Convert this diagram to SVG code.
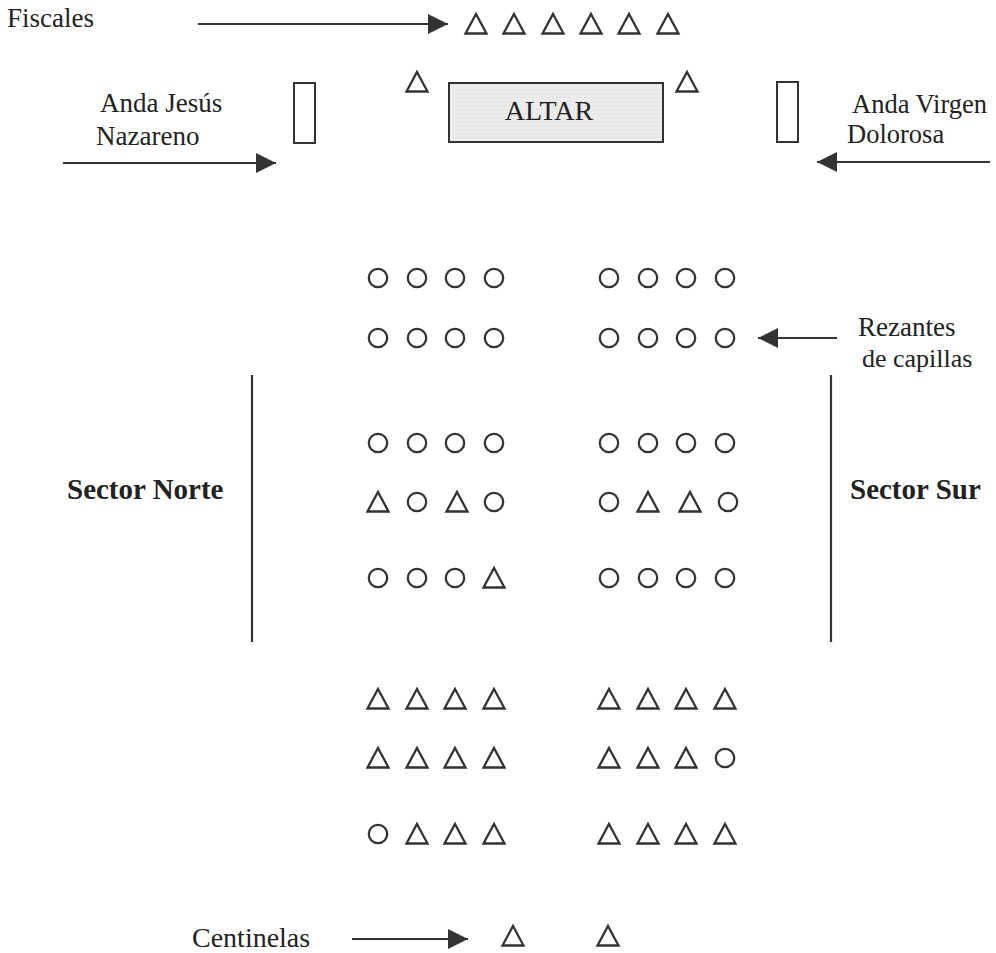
<svg xmlns="http://www.w3.org/2000/svg" xmlns:xlink="http://www.w3.org/1999/xlink" width="996" height="953" viewBox="0 0 996 953">
<style>
  .lbl { font-family: "Liberation Serif", "Times New Roman", serif; font-size: 27px; fill: #222; }
  .bold { font-weight: bold; font-size: 29px; }
  .sym { fill: none; stroke: #333; stroke-width: 2.3; }
  .box { fill: #fff; stroke: #333; stroke-width: 2; }
  .conn { stroke: #333; stroke-width: 2.2; fill: none; }
  .sep { stroke: #333; stroke-width: 2.2; }
</style>
<defs>
  <marker id="ah" viewBox="0 0 20 20" refX="20" refY="10" markerWidth="20" markerHeight="20" markerUnits="userSpaceOnUse" orient="auto">
    <path d="M0,0 L20,10 L0,20 Z" fill="#333"/>
  </marker>
  <path id="t" class="sym" d="M0,-10 L10.5,9.5 L-10.5,9.5 Z"/>
  <circle id="c" class="sym" r="9.2"/>
  <pattern id="stip" width="4" height="4" patternUnits="userSpaceOnUse">
    <rect width="4" height="4" fill="#ececec"/>
    <rect x="1" y="1" width="1" height="1" fill="#d4d4d4"/>
  </pattern>
</defs>
<rect width="996" height="953" fill="#fff"/>

<g id="connectors">
  <line class="conn" x1="198" y1="24" x2="448" y2="24" marker-end="url(#ah)"/>
  <line class="conn" x1="63" y1="163" x2="276" y2="163" marker-end="url(#ah)"/>
  <line class="conn" x1="990" y1="162" x2="817" y2="162" marker-end="url(#ah)"/>
  <line class="conn" x1="837" y1="338" x2="758" y2="338" marker-end="url(#ah)"/>
  <line class="conn" x1="352" y1="939" x2="468" y2="939" marker-end="url(#ah)"/>
</g>

<g id="fiscales-label"><text class="lbl" x="7" y="27">Fiscales</text></g>
<g id="fiscales">
  <use xlink:href="#t" x="476" y="24"/>
  <use xlink:href="#t" x="514" y="24"/>
  <use xlink:href="#t" x="553" y="24"/>
  <use xlink:href="#t" x="591" y="24"/>
  <use xlink:href="#t" x="629" y="24"/>
  <use xlink:href="#t" x="668" y="24"/>
</g>
<g id="altar-guard-left"><use xlink:href="#t" x="417" y="82"/></g>
<g id="altar-guard-right"><use xlink:href="#t" x="687" y="82"/></g>
<g id="altar">
  <rect x="449" y="83" width="214" height="59" fill="url(#stip)" stroke="#333" stroke-width="2"/>
  <text class="lbl" x="549" y="120" text-anchor="middle" style="font-size:28px">ALTAR</text>
</g>
<g id="anda-jesus">
  <rect class="box" x="294" y="83" width="21" height="60"/>
  <text class="lbl" x="100" y="112">Anda Jesús</text>
  <text class="lbl" x="96" y="145">Nazareno</text>
</g>
<g id="anda-virgen">
  <rect class="box" x="777" y="82" width="21" height="60"/>
  <text class="lbl" x="852" y="113" style="font-size:26.5px">Anda Virgen</text>
  <text class="lbl" x="847" y="143" style="font-size:26.5px">Dolorosa</text>
</g>
<g id="rezantes-label">
  <text class="lbl" x="858" y="336">Rezantes</text>
  <text class="lbl" x="862" y="367" style="font-size:26px">de capillas</text>
</g>
<g id="sector-norte">
  <line class="sep" x1="252" y1="375" x2="252" y2="642"/>
  <text class="lbl bold" x="67" y="499">Sector Norte</text>
</g>
<g id="sector-sur">
  <line class="sep" x1="831" y1="375" x2="831" y2="642"/>
  <text class="lbl bold" x="850" y="499">Sector Sur</text>
</g>

<g id="row1">
  <use xlink:href="#c" x="378" y="278"/><use xlink:href="#c" x="417" y="278"/><use xlink:href="#c" x="455" y="278"/><use xlink:href="#c" x="494" y="278"/>
  <use xlink:href="#c" x="609" y="278"/><use xlink:href="#c" x="648" y="278"/><use xlink:href="#c" x="686" y="278"/><use xlink:href="#c" x="725" y="278"/>
</g>
<g id="row2">
  <use xlink:href="#c" x="378" y="338"/><use xlink:href="#c" x="417" y="338"/><use xlink:href="#c" x="455" y="338"/><use xlink:href="#c" x="494" y="338"/>
  <use xlink:href="#c" x="609" y="338"/><use xlink:href="#c" x="648" y="338"/><use xlink:href="#c" x="686" y="338"/><use xlink:href="#c" x="725" y="338"/>
</g>
<g id="row3">
  <use xlink:href="#c" x="378" y="443"/><use xlink:href="#c" x="417" y="443"/><use xlink:href="#c" x="455" y="443"/><use xlink:href="#c" x="494" y="443"/>
  <use xlink:href="#c" x="609" y="443"/><use xlink:href="#c" x="648" y="443"/><use xlink:href="#c" x="686" y="443"/><use xlink:href="#c" x="725" y="443"/>
</g>
<g id="row4">
  <use xlink:href="#t" x="378" y="502"/><use xlink:href="#c" x="417" y="502"/><use xlink:href="#t" x="457" y="502"/><use xlink:href="#c" x="494" y="502"/>
  <use xlink:href="#c" x="609" y="502"/><use xlink:href="#t" x="648" y="502"/><use xlink:href="#t" x="690" y="502"/><use xlink:href="#c" x="728" y="502"/>
</g>
<g id="row5">
  <use xlink:href="#c" x="378" y="578"/><use xlink:href="#c" x="417" y="578"/><use xlink:href="#c" x="455" y="578"/><use xlink:href="#t" x="494" y="578"/>
  <use xlink:href="#c" x="609" y="578"/><use xlink:href="#c" x="648" y="578"/><use xlink:href="#c" x="686" y="578"/><use xlink:href="#c" x="725" y="578"/>
</g>
<g id="row6">
  <use xlink:href="#t" x="378" y="699"/><use xlink:href="#t" x="417" y="699"/><use xlink:href="#t" x="455" y="699"/><use xlink:href="#t" x="494" y="699"/>
  <use xlink:href="#t" x="609" y="699"/><use xlink:href="#t" x="648" y="699"/><use xlink:href="#t" x="686" y="699"/><use xlink:href="#t" x="725" y="699"/>
</g>
<g id="row7">
  <use xlink:href="#t" x="378" y="758"/><use xlink:href="#t" x="417" y="758"/><use xlink:href="#t" x="455" y="758"/><use xlink:href="#t" x="494" y="758"/>
  <use xlink:href="#t" x="609" y="758"/><use xlink:href="#t" x="648" y="758"/><use xlink:href="#t" x="686" y="758"/><use xlink:href="#c" x="725" y="758"/>
</g>
<g id="row8">
  <use xlink:href="#c" x="378" y="834"/><use xlink:href="#t" x="417" y="834"/><use xlink:href="#t" x="455" y="834"/><use xlink:href="#t" x="494" y="834"/>
  <use xlink:href="#t" x="609" y="834"/><use xlink:href="#t" x="648" y="834"/><use xlink:href="#t" x="686" y="834"/><use xlink:href="#t" x="725" y="834"/>
</g>

<g id="centinelas-label"><text class="lbl" x="192" y="947" style="font-size:28px">Centinelas</text></g>
<g id="centinelas">
  <use xlink:href="#t" x="513" y="936"/>
  <use xlink:href="#t" x="608" y="936"/>
</g>
</svg>
